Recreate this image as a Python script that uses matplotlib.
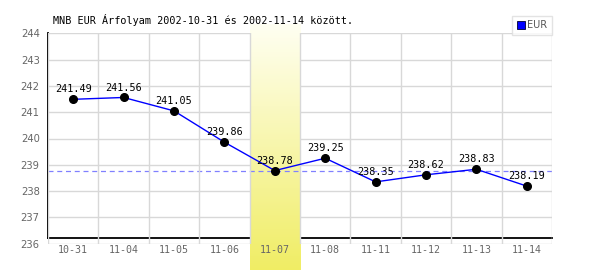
import matplotlib
matplotlib.use("Agg")
import matplotlib.pyplot as plt
import numpy as np
from matplotlib.lines import Line2D

dates = ["10-31", "11-04", "11-05", "11-06", "11-07", "11-08", "11-11", "11-12", "11-13", "11-14"]
eur = [241.49, 241.56, 241.05, 239.86, 238.78, 239.25, 238.35, 238.62, 238.83, 238.19]
selected = "11-07"
y_ticks = [236, 237, 238, 239, 240, 241, 242, 243, 244]
title = "MNB EUR Árfolyam 2002-10-31 és 2002-11-14 között."
series_name = "EUR"

MONO = ["DejaVu Sans Mono"]
fig = plt.figure(figsize=(6, 2.7), dpi=100)
ax = fig.add_axes([48/600, 1-243.7/270, 504/600, (243.7-33.3)/270])

x = np.arange(len(dates))
sel = dates.index(selected)

for s in ['top', 'right']:
    ax.spines[s].set_visible(False)
ax.spines['bottom'].set_position(('axes', 0.026))
ax.spines['bottom'].set_linewidth(1.3)
ax.spines['left'].set_linewidth(1.3)

ax.set_xlim(-0.5, len(dates)-0.5)
ax.set_ylim(y_ticks[0], y_ticks[-1])
ax.spines['left'].set_bounds(y_ticks[0] + 0.2, y_ticks[-1])

# grid
ax.set_yticks(y_ticks)
ax.set_xticks(x)
ax.set_xticks(np.arange(len(dates)+1)-0.5, minor=True)
ax.grid(True, which='major', axis='y', color='#d8d8d8', lw=1, zorder=0)
ax.grid(True, which='minor', axis='x', color='#d8d8d8', lw=1, zorder=0)
ax.set_axisbelow(True)
ax.tick_params(which='both', length=0)
ax.set_yticklabels([str(v) for v in y_ticks], color='#666666', fontsize=7.2, family=["DejaVu Sans"])
ax.set_xticklabels(dates, color='#666666', fontsize=7.2, family=MONO)
ax.tick_params(axis='y', pad=6)
ax.tick_params(axis='x', pad=5)
ax.xaxis.set_zorder(3)

# highlight gradient column
grad = np.linspace(0, 1, 256).reshape(-1, 1)
top_c = np.array([255, 255, 242]) / 255
bot_c = np.array([240, 237, 100]) / 255
img = top_c + (bot_c - top_c) * grad[:, :, None]
ax.imshow(img, extent=(sel-0.5, sel+0.5, 234.98, 244.32), aspect='auto',
          origin='upper', zorder=2.6, clip_on=False, interpolation='bilinear')
ax.set_xlim(-0.5, len(dates)-0.5)
ax.set_ylim(y_ticks[0], y_ticks[-1])

# reference dashed line at selected value
ax.axhline(eur[sel], color='#8080ff', lw=0.9, ls=(0, (4, 3)), zorder=3)

ax.plot(x, eur, color='#0000ff', lw=1, zorder=4)
ax.plot(x, eur, 'o', color='black', ms=5.5, zorder=5)
for xi, v in zip(x, eur):
    ax.annotate(f"{v:.2f}", (xi, v), xytext=(0, 3.5), textcoords='offset points',
                ha='center', va='bottom', fontsize=7.3, family=MONO, color='black', zorder=6)

fig.text(53/600, 1-20/270, title, fontsize=7.3, family=MONO, va='center', ha='left')

handle = Line2D([], [], marker='s', ls='none', markerfacecolor='#0000ff',
                markeredgecolor='#000033', markersize=5.5, markeredgewidth=0.6)
leg = fig.legend([handle], [series_name], loc='upper right',
                 bbox_to_anchor=(552/600, 1-16/270), frameon=True, fancybox=False,
                 fontsize=7, handlelength=0.8, handletextpad=0.3, borderpad=0.45,
                 borderaxespad=0)
leg.get_frame().set_edgecolor('#dddddd')
leg.get_frame().set_linewidth(1)
for t in leg.get_texts():
    t.set_color('#555555')

fig.savefig("out.png", dpi=100)
